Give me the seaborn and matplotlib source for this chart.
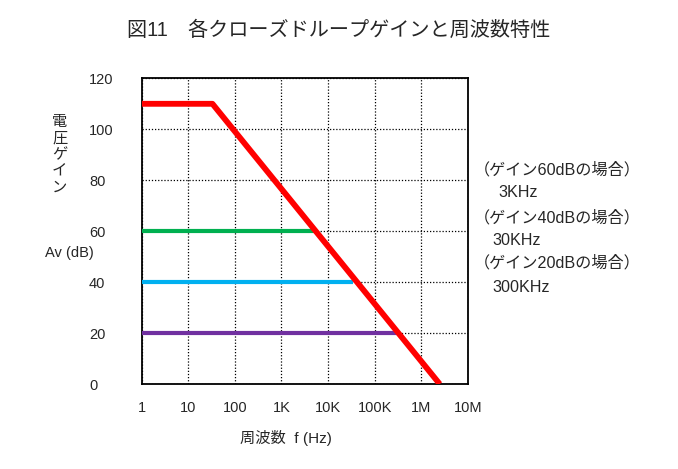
import matplotlib
matplotlib.use("Agg")
import matplotlib.pyplot as plt
import pandas as pd
import seaborn as sb

# データ
# オープンループ特性 (赤線)
OPEN_FREQ = [1, 33, 2.5e6]
OPEN_GAIN = [110, 110, 0]

# 各クローズドループゲイン
CLOSED_60_FREQ = [1, 5.2e3]
CLOSED_60_GAIN = [60, 60]
CLOSED_40_FREQ = [1, 3.4e4]
CLOSED_40_GAIN = [40, 40]
CLOSED_20_FREQ = [1, 3.0e5]
CLOSED_20_GAIN = [20, 20]

X_TICKS = [1, 10, 100, 1e3, 1e4, 1e5, 1e6, 1e7]
X_TICK_LABELS = ["1", "10", "100", "1K", "10K", "100K", "1M", "10M"]
Y_TICKS = [0, 20, 40, 60, 80, 100, 120]

NOTES = [
    "（ゲイン60dBの場合）",
    "3KHz",
    "（ゲイン40dBの場合）",
    "30KHz",
    "（ゲイン20dBの場合）",
    "300KHz",
]


def build_frame() -> pd.DataFrame:
    partes = []
    for nome, f, g in [
        ("open", OPEN_FREQ, OPEN_GAIN),
        ("60dB", CLOSED_60_FREQ, CLOSED_60_GAIN),
        ("40dB", CLOSED_40_FREQ, CLOSED_40_GAIN),
        ("20dB", CLOSED_20_FREQ, CLOSED_20_GAIN),
    ]:
        partes.append(pd.DataFrame({"serie": nome, "freq": f, "gain": g}))
    return pd.concat(partes, ignore_index=True)


def main():
    sb.set_style("white")
    plt.rcParams["font.family"] = ["Liberation Sans", "Noto Sans CJK JP"]

    df = build_frame()
    cores = {"open": "#FF0000", "60dB": "#00B050", "40dB": "#00B0F0", "20dB": "#7030A0"}
    larguras = {"open": 4.2, "60dB": 3.0, "40dB": 3.0, "20dB": 3.0}

    fig = plt.figure(figsize=(6.78, 4.69), dpi=100)
    ax = fig.add_axes([0.209, 0.181, 0.481, 0.652])

    # linhas fechadas primeiro, vermelho por cima
    for nome in ["60dB", "40dB", "20dB", "open"]:
        sb.lineplot(data=df[df["serie"] == nome], x="freq", y="gain",
                    color=cores[nome], linewidth=larguras[nome],
                    sort=False, estimator=None, ax=ax, zorder=3,
                    solid_capstyle="butt")

    ax.set_xscale("log")
    ax.set_xlim(1, 1e7)
    ax.set_ylim(0, 120)
    ax.set_xticks(X_TICKS)
    ax.set_xticklabels(X_TICK_LABELS)
    ax.minorticks_off()
    ax.set_yticks(Y_TICKS)
    ax.set_yticklabels([str(v) for v in Y_TICKS], ha="left")
    ax.tick_params(axis="y", length=0, pad=38, labelsize=10.5)
    ax.tick_params(axis="x", length=0, pad=12, labelsize=10.5)
    ax.grid(True, linestyle=(0, (1, 1.5)), color="black", linewidth=0.9)
    for s in ax.spines.values():
        s.set_color("black")
        s.set_linewidth(1.3)
    ax.set_xlabel("")
    ax.set_ylabel("")

    fig.text(0.5, 0.935, "図11　各クローズドループゲインと周波数特性",
             ha="center", va="center", fontsize=14.5)
    fig.text(0.088, 0.67, "電\n圧\nゲ\nイ\nン", ha="center", va="center",
             fontsize=11, linespacing=1.22)
    fig.text(0.103, 0.46, "Av (dB)", ha="center", va="center", fontsize=10.5)
    fig.text(0.422, 0.066, "周波数  f (Hz)", ha="center", va="center", fontsize=11)

    xs = [0.699, 0.735, 0.699, 0.727, 0.699, 0.727]
    ys = [0.638, 0.589, 0.535, 0.488, 0.439, 0.388]
    for txt, x, y in zip(NOTES, xs, ys):
        fig.text(x, y, txt, ha="left", va="center", fontsize=11.6)

    fig.savefig("out.png", dpi=100)
    plt.close(fig)


if __name__ == "__main__":
    main()
